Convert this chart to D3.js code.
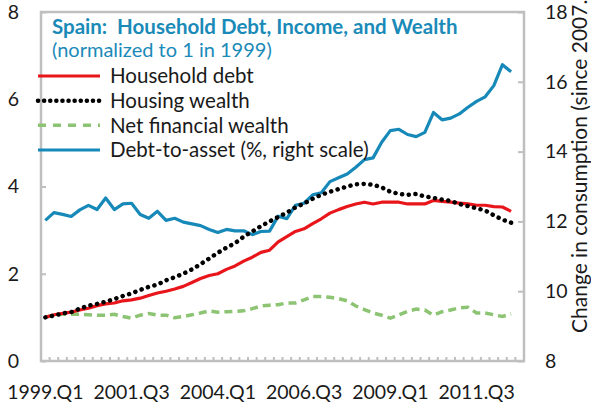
<!DOCTYPE html>
<html>
<head>
<meta charset="utf-8">
<script src="https://cdn.jsdelivr.net/npm/d3@7"></script>
<style>
  body { margin: 0; background: #fff; }
  svg text { font-family: Lato, "Open Sans", sans-serif; fill: #1a1a1a; }
</style>
</head>
<body>
<div id="chart"></div>
<script>
// quarters on the category axis, 1999.Q1 .. 2012.Q4
const quarters = [];
for (let yr = 1999; yr <= 2012; yr++) {
    for (let q = 1; q <= 4; q++) quarters.push(yr + ".Q" + q);
}
const xTickLabels = ["1999.Q1", "2001.Q3", "2004.Q1", "2006.Q3", "2009.Q1", "2011.Q3"];
const leftTicks = [0, 2, 4, 6, 8];
const rightTicks = [8, 10, 12, 14, 16, 18];

// series (1999.Q1 .. 2012.Q3)
const householdDebt = [1.00, 1.06, 1.09, 1.12, 1.17, 1.21, 1.27, 1.31, 1.33, 1.38,
    1.40, 1.44, 1.50, 1.56, 1.60, 1.65, 1.71, 1.80, 1.89, 1.96,
    2.00, 2.10, 2.18, 2.29, 2.38, 2.49, 2.54, 2.73, 2.85, 2.97,
    3.03, 3.15, 3.26, 3.39, 3.47, 3.54, 3.60, 3.64, 3.60, 3.64,
    3.64, 3.64, 3.60, 3.60, 3.60, 3.68, 3.66, 3.64, 3.62, 3.60,
    3.57, 3.57, 3.54, 3.53, 3.43];
const housingWealth = [1.00, 1.04, 1.09, 1.12, 1.20, 1.27, 1.31, 1.36, 1.42, 1.49,
    1.55, 1.63, 1.70, 1.75, 1.85, 1.92, 2.00, 2.10, 2.22, 2.35,
    2.48, 2.60, 2.70, 2.85, 2.97, 3.09, 3.20, 3.30, 3.40, 3.52,
    3.61, 3.72, 3.81, 3.88, 3.94, 4.00, 4.05, 4.06, 4.04, 3.98,
    3.88, 3.83, 3.81, 3.83, 3.77, 3.74, 3.70, 3.67, 3.60, 3.55,
    3.50, 3.45, 3.34, 3.24, 3.17];
const netFinancialWealth = [1.00, 1.05, 1.07, 1.07, 1.07, 1.06, 1.05, 1.05, 1.07, 1.02,
    0.98, 1.05, 1.09, 1.05, 1.05, 0.99, 1.02, 1.06, 1.10, 1.15,
    1.12, 1.13, 1.14, 1.15, 1.20, 1.26, 1.28, 1.29, 1.33, 1.33,
    1.40, 1.48, 1.48, 1.46, 1.43, 1.38, 1.26, 1.18, 1.10, 1.05,
    0.98, 1.06, 1.14, 1.19, 1.17, 1.05, 1.13, 1.17, 1.22, 1.23,
    1.10, 1.10, 1.06, 1.02, 1.08];
const debtToAsset = [12.03, 12.25, 12.20, 12.14, 12.33, 12.46, 12.34, 12.67, 12.34, 12.50,
    12.52, 12.20, 12.09, 12.29, 12.03, 12.09, 11.98, 11.93, 11.88, 11.77,
    11.68, 11.77, 11.73, 11.73, 11.62, 11.71, 11.72, 12.15, 12.08, 12.46,
    12.52, 12.76, 12.82, 13.14, 13.25, 13.36, 13.55, 13.77, 13.82, 14.27,
    14.60, 14.64, 14.49, 14.43, 14.55, 15.12, 14.91, 14.96, 15.08, 15.27,
    15.44, 15.57, 15.89, 16.49, 16.29];

const seriesNames = ["Household debt", "Housing wealth", "Net financial wealth", "Debt-to-asset (%, right scale)"];

const width = 591, height = 402;
const plot = {left: 41, right: 524, top: 12, bottom: 361};
const tickFont = "19.5px";

const svg = d3.select("#chart").append("svg")
    .attr("width", width)
    .attr("height", height);

const x = d3.scaleBand()
    .domain(quarters)
    .range([plot.left, plot.right])
    .padding(0);
const xc = q => x(q) + x.bandwidth() / 2;

const yL = d3.scaleLinear().domain([0, 8]).range([plot.bottom, plot.top]);
const yR = d3.scaleLinear().domain([8, 18]).range([plot.bottom, plot.top]);

const grey = "#bfbfbf";

// frame
svg.append("rect")
    .attr("x", plot.left)
    .attr("y", plot.top)
    .attr("width", plot.right - plot.left)
    .attr("height", plot.bottom - plot.top)
    .attr("fill", "none")
    .attr("stroke", grey)
    .attr("stroke-width", 2.5);

// category tick marks between quarters
svg.append("g").selectAll("line")
    .data(quarters.slice(1))
    .enter()
    .append("line")
    .attr("x1", d => x(d))
    .attr("x2", d => x(d))
    .attr("y1", plot.bottom)
    .attr("y2", plot.bottom - 4)
    .attr("stroke", grey)
    .attr("stroke-width", 2);

const leftAxis = svg.append("g")
    .attr("transform", "translate(" + plot.left + ",0)")
    .call(d3.axisLeft(yL).tickValues(leftTicks).tickSize(-5).tickPadding(22));

const rightAxis = svg.append("g")
    .attr("transform", "translate(" + plot.right + ",0)")
    .call(d3.axisRight(yR).tickValues(rightTicks).tickSize(-6).tickPadding(21));

const bottomAxis = svg.append("g")
    .attr("transform", "translate(0," + plot.bottom + ")")
    .call(d3.axisBottom(x).tickValues(xTickLabels).tickSize(0).tickPadding(24));

[leftAxis, rightAxis, bottomAxis].forEach(g => {
    g.select(".domain").remove();
    g.selectAll(".tick line").attr("stroke", grey).attr("stroke-width", 2);
    g.selectAll(".tick text")
        .style("font-size", tickFont)
        .style("font-family", "Lato, 'Open Sans', sans-serif")
        .attr("fill", "#1a1a1a");
});

// lines
const lineL = d3.line().x((d, i) => xc(quarters[i])).y(d => yL(d));
const lineR = d3.line().x((d, i) => xc(quarters[i])).y(d => yR(d));

svg.append("path")
    .datum(netFinancialWealth)
    .attr("d", lineL)
    .attr("fill", "none")
    .attr("stroke", "#8cc474")
    .attr("stroke-width", 3.5)
    .attr("stroke-dasharray", "8,5");

svg.append("path")
    .datum(householdDebt)
    .attr("d", lineL)
    .attr("fill", "none")
    .attr("stroke", "#e8161b")
    .attr("stroke-width", 3.2)
    .attr("stroke-linejoin", "round");

svg.append("path")
    .datum(debtToAsset)
    .attr("d", lineR)
    .attr("fill", "none")
    .attr("stroke", "#1689b9")
    .attr("stroke-width", 3.2)
    .attr("stroke-linejoin", "round");

svg.append("path")
    .datum(housingWealth)
    .attr("d", lineL)
    .attr("fill", "none")
    .attr("stroke", "#000")
    .attr("stroke-width", 4.5)
    .attr("stroke-linecap", "round")
    .attr("stroke-dasharray", "0.1,6.6");

// title
svg.append("text")
    .attr("x", 52)
    .attr("y", 34)
    .style("white-space", "pre")
    .style("font-size", "20.5px")
    .style("font-weight", "bold")
    .style("fill", "#1a8ab8")
    .text("Spain:  Household Debt, Income, and Wealth");

svg.append("text")
    .attr("x", 52)
    .attr("y", 57)
    .style("font-size", "20px")
    .style("fill", "#1a8ab8")
    .text("(normalized to 1 in 1999)");

// legend
const legendStyles = [
    {stroke: "#e8161b", width: 3.2, dash: null, cap: "butt"},
    {stroke: "#000", width: 4.5, dash: "0.1,6", cap: "round"},
    {stroke: "#8cc474", width: 3.5, dash: "8,7", cap: "butt"},
    {stroke: "#1689b9", width: 3.2, dash: null, cap: "butt"}
];
const legendY = d3.scalePoint().domain(seriesNames).range([76, 150]);

const legend = svg.append("g").selectAll("g")
    .data(seriesNames)
    .enter()
    .append("g")
    .attr("transform", d => "translate(0," + legendY(d) + ")");

legend.append("line")
    .attr("x1", 38)
    .attr("x2", 100)
    .attr("stroke", (d, i) => legendStyles[i].stroke)
    .attr("stroke-width", (d, i) => legendStyles[i].width)
    .attr("stroke-dasharray", (d, i) => legendStyles[i].dash)
    .attr("stroke-linecap", (d, i) => legendStyles[i].cap);

legend.append("text")
    .attr("x", 110)
    .attr("dy", "0.35em")
    .style("font-size", "20.5px")
    .text(d => d);

// right axis title (runs off the top edge, as in the original)
svg.append("text")
    .attr("transform", "translate(587,333) rotate(-90)")
    .style("font-size", "21px")
    .text("Change in consumption (since 2007.Q4)");
</script>
</body>
</html>
